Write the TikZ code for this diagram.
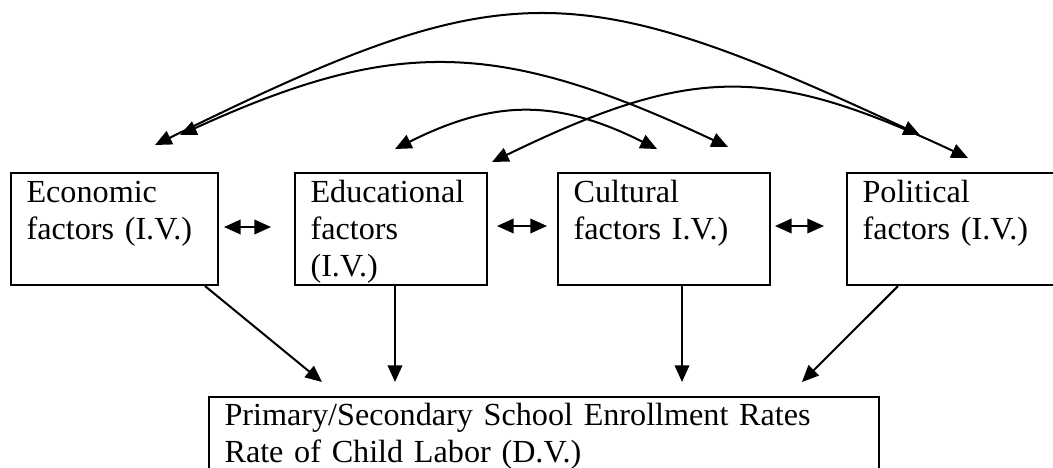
\documentclass[tikz,border=0pt]{standalone}
\usepackage{fontspec}
\setmainfont{Liberation Serif}
\usetikzlibrary{arrows.meta}

\begin{document}
\begin{tikzpicture}[x=0.373pt, y=-0.373pt,
    factor/.style={draw, line width=0.75pt, anchor=north west, align=left,
        inner xsep=5.8pt, inner ysep=1pt, text height=10pt, text depth=29.8pt,
        font=\fontsize{12}{13.8}\selectfont},
    link/.style={line width=0.75pt, -{Triangle[length=6.2pt,width=5.4pt]}},
    twoway/.style={line width=0.75pt, {Triangle[length=6.2pt,width=5.4pt]}-{Triangle[length=6.2pt,width=5.4pt]}}]
    \clip (0,0) rectangle (1053,467);
    \node[factor, text width=65.6pt] (eco) at (10,172) {Economic\\factors (I.V.)};
    \node[factor, text width=60pt] (edu) at (294,172) {Educational\\factors\\(I.V.)};
    \node[factor, text width=67.5pt] (cul) at (557,172) {Cultural\\factors I.V.)};
    \node[factor, text width=68.6pt] (pol) at (846,172) {Political\\factors (I.V.)};
    \node[factor, text width=238.2pt, text height=9.6pt, text depth=26pt] (dv) at (208,396)
        {Primary/Secondary School Enrollment Rates\\Rate of Child Labor (D.V.)};
    \coordinate (in-eco) at (322,382);
    \coordinate (in-edu) at (395,382);
    \coordinate (in-cul) at (682,382);
    \coordinate (in-pol) at (802,382);
    \draw[link] ([xshift=-5.2pt]eco.south east) -- (in-eco);
    \draw[link] (edu.south -| in-edu) -- (in-edu);
    \draw[link] (cul.south -| in-cul) -- (in-cul);
    \draw[link] ([xshift=19.4pt]pol.south west) -- (in-pol);
    \coordinate (eco-r) at (224,227);
    \coordinate (edu-l) at (271,227);
    \coordinate (edu-r) at (497,226);
    \coordinate (cul-l) at (547,226);
    \coordinate (cul-r) at (775,226);
    \coordinate (pol-l) at (824,226);
    \draw[twoway] (eco-r) -- (edu-l);
    \draw[twoway] (edu-r) -- (cul-l);
    \draw[twoway] (cul-r) -- (pol-l);
    \coordinate (eco-a) at (155,145);
    \coordinate (eco-b) at (180,135);
    \coordinate (edu-a) at (395,149);
    \coordinate (edu-b) at (492,162);
    \coordinate (cul-a) at (657,149);
    \coordinate (cul-b) at (728,147);
    \coordinate (pol-a) at (920,135);
    \coordinate (pol-b) at (968,158);
    \draw[twoway] (eco-a) .. controls +(350,-172) and +(-350,-162) .. (pol-a);
    \draw[twoway] (eco-b) .. controls +(215,-98) and +(-230,-108) .. (cul-b);
    \draw[twoway] (edu-a) .. controls +(100,-50) and +(-100,-50) .. (cul-a);
    \draw[twoway] (edu-b) .. controls +(200,-97) and +(-200,-94) .. (pol-b);
\end{tikzpicture}
\end{document}
